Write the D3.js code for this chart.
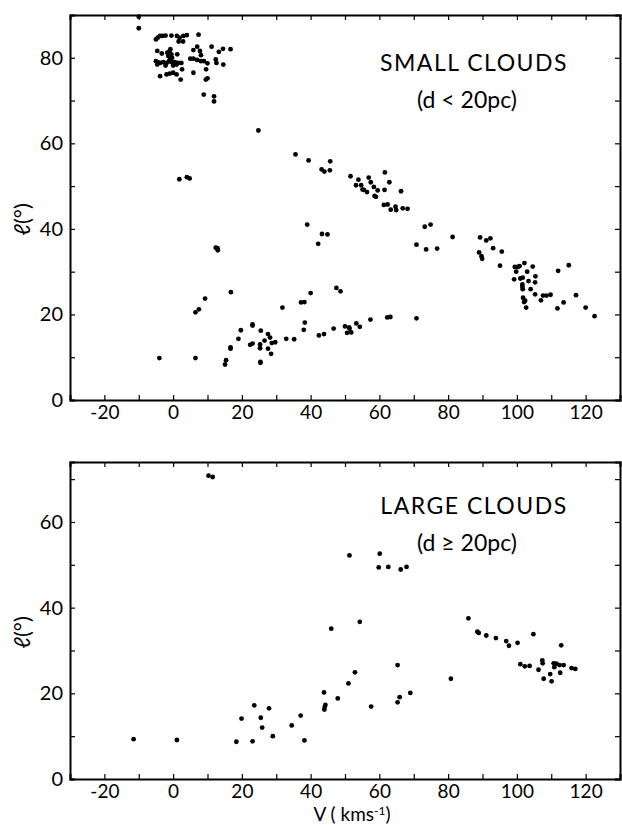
<!DOCTYPE html>
<html>
<head>
<meta charset="utf-8">
<script src="https://cdn.jsdelivr.net/npm/d3@7"></script>
<style>
  body { margin: 0; background: #fff; }
  svg text { font-family: Lato, "DejaVu Sans", sans-serif; font-weight: 400; fill: #000; }
  .axis path, .axis line { stroke: #000; }
</style>
</head>
<body>
<svg id="chart" width="622" height="825"></svg>
<script>
// small clouds (d < 20 pc): [V km/s, l deg]
const smallClouds = [
  [-10, 89.6], [-10, 86.9],
  [-5, 84.3], [-4.5, 84.7], [-3.8, 85.1], [-3.1, 85.1], [-2.2, 85.2], [-0.5, 85.2], [1.1, 85.1], [1.9, 84.7],
  [3, 85.1], [4, 85.3], [7.4, 85.4], [1.6, 83.8], [2.9, 83.8],
  [11.2, 82.6], [14.5, 82.1], [16.7, 82.0], [13.3, 81.4], [7, 82.6], [7.8, 81.6], [5.9, 81.8], [8.1, 80.6],
  [5, 79.8], [5.9, 79.8], [7, 79.5], [8.1, 79.2], [9, 79.2], [10, 78.7], [12.4, 79.6], [12.6, 78.8], [14.6, 78.4], [9.6, 77.3],
  [-4.6, 81.6], [-3.3, 81.0], [-1.7, 81.2], [-1.0, 81.6], [-0.8, 82.0], [-1.4, 80.4], [-0.5, 80.8], [1.2, 80.8],
  [-5, 79.2], [-4.5, 79.0], [-3.8, 78.8], [-2.9, 79.0], [-1.9, 78.8], [-1.2, 79.2], [-0.5, 79.0], [0.5, 79.0], [1.4, 78.8], [2.4, 78.8],
  [-0.8, 79.9], [-0.3, 80.0], [-4.6, 78.4], [-2.2, 78.2], [0, 78.2], [1.0, 78.4], [2.6, 77.3], [5.9, 76.5],
  [-3.8, 75.7], [-1.9, 76.1], [-1.0, 76.3], [0, 76.5], [1.0, 76.1], [2.2, 74.9], [9.5, 74.9], [10, 75.2],
  [8.9, 71.4], [11.9, 71.0], [11.9, 69.8],
  [24.8, 63.0], [1.8, 51.6], [4.0, 52.1], [4.8, 51.8],
  [35.6, 57.4], [39.4, 56.0], [43.2, 53.9], [44.0, 53.4], [45.7, 55.8], [45.6, 53.7],
  [39.0, 41.0], [42.2, 36.5], [43.3, 38.8], [44.9, 38.7], [12.9, 35.5], [13.0, 35.0], [12.4, 35.6],
  [51.6, 52.3], [53.2, 50.2], [53.9, 51.5], [54.7, 50.2], [55.1, 49.2], [55.5, 49.1], [56.4, 48.6],
  [56.9, 52.0], [57.5, 50.9], [58.4, 49.8], [58.6, 47.7], [59.0, 47.5], [59.5, 49.0], [61.5, 49.1], [61.6, 53.2], [62.9, 50.9],
  [61.3, 45.6], [62.4, 45.7], [63.3, 44.5], [64.7, 45.2], [64.9, 44.4], [66.3, 48.8], [66.8, 44.8], [68.2, 44.7],
  [70.8, 36.3], [73.2, 40.5], [74.9, 41.0], [73.6, 35.2], [76.8, 35.4], [81.3, 38.1],
  [89.3, 38.0], [91.1, 37.3], [92.3, 37.8], [93.1, 35.5], [95.6, 34.7], [89.0, 34.5], [89.7, 33.6], [89.9, 33.0],
  [95.1, 31.4], [99.4, 31.1], [100.3, 31.1], [100.8, 31.3], [102.2, 32.0], [104.6, 31.2], [99.8, 30.0], [103.0, 30.0],
  [99.2, 28.2], [101.0, 28.4], [101.7, 28.6], [103.4, 27.8], [105.4, 28.9], [105.3, 27.5],
  [101.6, 27.0], [101.6, 26.5], [101.7, 25.9], [104.0, 25.9], [105.3, 24.7],
  [101.8, 23.9], [102.4, 23.2], [102.1, 22.9], [102.7, 21.6], [107.0, 23.3],
  [107.6, 24.4], [108.6, 24.4], [109.8, 24.6], [112.0, 30.2], [111.8, 21.4], [113.6, 22.8], [115.1, 31.5],
  [117.2, 24.5], [120.0, 21.6], [122.6, 19.6],
  [-4, 9.8], [6.5, 9.8], [6.5, 20.5], [7.5, 21.2], [9.3, 23.7], [16.8, 25.2],
  [15.1, 8.3], [15.4, 9.3], [16.7, 12.3], [16.7, 12.0], [19.7, 16.3], [19.0, 14.3],
  [23.1, 17.7], [23.1, 17.4], [22.4, 12.9], [23.1, 13.2], [25.5, 16.2], [25.3, 13.0], [25.3, 12.1], [26.6, 13.9],
  [25.4, 8.9], [25.4, 8.7], [27.6, 15.4], [28.2, 14.6], [27.6, 12.0], [28.7, 13.3], [29.7, 13.5], [28.5, 10.8],
  [31.8, 21.6], [32.9, 14.3], [35.2, 14.2], [37.2, 22.8], [38.2, 22.9], [38.3, 18.1], [38.0, 16.4], [40.0, 25.0],
  [42.4, 15.1], [43.9, 15.4], [46.7, 16.7], [47.5, 26.2], [48.7, 25.4], [50.0, 17.2],
  [50.6, 15.7], [51.3, 16.7], [51.8, 15.8], [51.2, 17.0], [53.3, 17.9], [54.3, 17.1], [57.4, 18.8],
  [62.3, 19.3], [63.2, 19.4], [70.8, 19.1]
];

// large clouds (d >= 20 pc): [V km/s, l deg]
const largeClouds = [
  [10.3, 70.8], [11.5, 70.5],
  [51.3, 52.2], [60.1, 52.6], [59.8, 49.4], [62.6, 49.5], [66.2, 48.9], [67.9, 49.5],
  [-11.5, 9.3], [1.1, 9.1], [18.4, 8.7], [19.9, 14.1], [23.1, 8.8], [23.6, 17.2], [25.5, 14.3], [25.9, 12.0],
  [27.9, 16.5], [29.0, 10.0], [34.5, 12.5], [37.1, 14.8], [38.2, 9.0],
  [43.9, 20.2], [44.0, 16.2], [44.1, 16.8], [44.3, 17.3], [46.0, 35.1], [47.9, 18.8], [51.0, 22.3], [52.9, 24.9],
  [54.3, 36.7], [57.6, 16.9], [65.3, 26.6], [65.3, 17.9], [65.9, 19.1], [69.0, 20.1], [80.8, 23.4],
  [85.9, 37.5], [88.5, 34.4], [88.9, 34.1], [91.1, 33.5], [93.9, 32.9], [96.9, 32.2], [97.7, 31.1], [100.2, 31.8],
  [104.8, 33.8], [112.9, 31.2], [101.0, 26.8], [102.3, 26.3], [103.7, 26.4], [106.3, 25.5], [107.4, 27.7], [107.5, 27.0],
  [107.8, 23.4], [109.7, 24.5], [110.1, 22.8], [110.7, 27.0], [110.9, 26.1], [111.5, 26.9], [112.4, 26.6], [113.6, 26.6],
  [112.6, 24.8], [115.9, 25.9], [117.0, 25.7]
];

const xDomain = [-30, 130];
const xTickLabels = [-20, 0, 20, 40, 60, 80, 100, 120];
const topYDomain = [0, 90];
const topYLabels = [0, 20, 40, 60, 80];
const bottomYDomain = [0, 74];
const bottomYLabels = [0, 20, 40, 60];

const svg = d3.select("#chart");
const X0 = 70, X1 = 620;
const x = d3.scaleLinear().domain(xDomain).range([X0, X1]);

function drawPanel(data, yDomain, yLabels, top, bottom, title, subtitle, titleY) {
  const y = d3.scaleLinear().domain(yDomain).range([bottom, top]);
  const g = svg.append("g");

  const xt = d3.range(-30, 131, 10);
  const yt = d3.range(yDomain[0], yDomain[1] + 0.1, 10);

  // frame axes, ticks pointing inward
  g.append("g").attr("class", "axis").attr("transform", `translate(0,${bottom})`)
    .call(d3.axisBottom(x).tickValues(xt).tickSize(-5).tickPadding(5)
      .tickFormat(d => xTickLabels.includes(d) ? String(d) : ""))
    .call(s => s.selectAll("text").style("font-size", "19px"));
  g.append("g").attr("class", "axis").attr("transform", `translate(0,${top})`)
    .call(d3.axisTop(x).tickValues(xt).tickSize(-5).tickFormat(""));
  g.append("g").attr("class", "axis").attr("transform", `translate(${X0},0)`)
    .call(d3.axisLeft(y).tickValues(yt).tickSize(-5).tickPadding(7)
      .tickFormat(d => yLabels.includes(d) ? String(d) : ""))
    .call(s => s.selectAll("text").style("font-size", "20px"));
  g.append("g").attr("class", "axis").attr("transform", `translate(${X1},0)`)
    .call(d3.axisRight(y).tickValues(yt).tickSize(-5).tickFormat(""));
  g.selectAll(".axis path").attr("stroke-width", 2);
  g.selectAll(".axis line").attr("stroke-width", 1.2);

  // points
  g.selectAll("circle").data(data).enter().append("circle")
    .attr("cx", d => x(d[0]))
    .attr("cy", d => y(d[1]))
    .attr("r", 2.4)
    .attr("fill", "#000");

  // y label
  g.append("text")
    .attr("transform", `translate(30,${(top + bottom) / 2 + 12}) rotate(-90)`)
    .attr("text-anchor", "middle")
    .style("font-size", "22px")
    .text("ℓ(°)");

  g.append("text").attr("x", 474).attr("y", titleY)
    .attr("text-anchor", "middle").style("font-size", "23px").style("letter-spacing", "1.5px")
    .text(title);
  g.append("text").attr("x", 467).attr("y", titleY + 37)
    .attr("text-anchor", "middle").style("font-size", "23px")
    .text(subtitle);
}

drawPanel(smallClouds, topYDomain, topYLabels, 15, 400, "SMALL  CLOUDS", "(d < 20pc)", 71);
drawPanel(largeClouds, bottomYDomain, bottomYLabels, 462, 779, "LARGE  CLOUDS", "(d ≥ 20pc)", 514);

const xTitle = svg.append("text")
  .attr("x", 352).attr("y", 821)
  .attr("text-anchor", "middle")
  .style("font-size", "19px");
xTitle.append("tspan").text("V ( kms");
xTitle.append("tspan").attr("dy", -6).style("font-size", "12px").text("-1");
xTitle.append("tspan").attr("dy", 6).text(")");
</script>
</body>
</html>
